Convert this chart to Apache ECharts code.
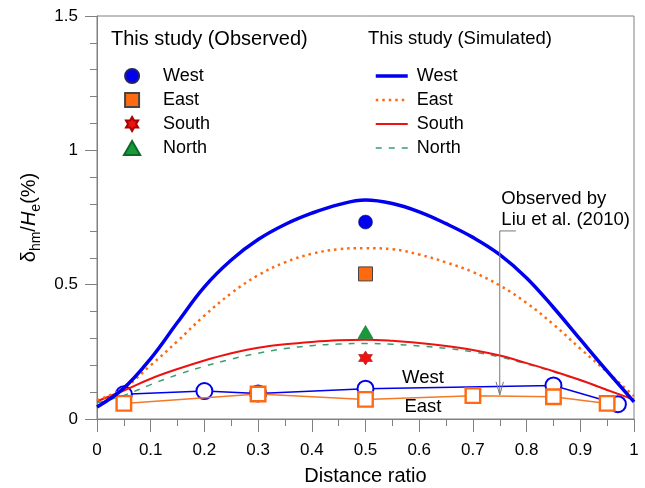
<!DOCTYPE html>
<html><head><meta charset="utf-8">
<script src="https://cdn.jsdelivr.net/npm/echarts@6/dist/echarts.min.js"></script>
<style>html,body{margin:0;padding:0;background:#fff}#c{width:645px;height:488px}</style>
</head><body><div id="c"></div>
<script>
const FONT = "'Liberation Sans', Arial, Helvetica, sans-serif";

// ---- data ----
const xTickValues = [0,0.1,0.2,0.3,0.4,0.5,0.6,0.7,0.8,0.9,1];
const yTickValues = [0,0.5,1,1.5];

const simX     = [0,0.05,0.1,0.15,0.2,0.25,0.3,0.35,0.4,0.45,0.5,0.55,0.6,0.65,0.7,0.75,0.8,0.85,0.9,0.95,1];
const simWest  = [0.045,0.115,0.225,0.36,0.492,0.592,0.668,0.724,0.766,0.798,0.815,0.802,0.771,0.727,0.676,0.612,0.525,0.415,0.296,0.178,0.064];
const simEast  = [0.07,0.115,0.2,0.29,0.385,0.468,0.535,0.583,0.615,0.632,0.636,0.632,0.612,0.583,0.547,0.497,0.432,0.352,0.262,0.175,0.085];
const simSouth = [0.066,0.106,0.15,0.186,0.218,0.245,0.265,0.278,0.287,0.293,0.295,0.291,0.283,0.272,0.257,0.236,0.208,0.178,0.145,0.108,0.072];
const simNorth = [0.06,0.088,0.128,0.165,0.196,0.223,0.245,0.262,0.273,0.279,0.281,0.278,0.272,0.263,0.25,0.231,0.205,0.176,0.144,0.108,0.072];

const liuWestX = [0.05,0.2,0.3,0.5,0.85,0.97];
const liuWestY = [0.092,0.104,0.095,0.113,0.125,0.055];
const liuEastX = [0.05,0.3,0.5,0.7,0.85,0.95];
const liuEastY = [0.058,0.093,0.073,0.087,0.083,0.058];

const obsX     = [0.5];
const obsWest  = [0.733];
const obsEast  = [0.54];
const obsSouth = [0.227];
const obsNorth = [0.324];

// ---- helpers ----
const zip = (xs, ys) => xs.map((x, i) => [x, ys[i]]);
function starPath() {
  let d = '';
  for (let i = 0; i < 12; i++) {
    const a = (-90 + i * 30) * Math.PI / 180;
    const r = i % 2 ? 0.577 : 1;
    d += (i ? 'L' : 'M') + (r * Math.cos(a)).toFixed(3) + ',' + (r * Math.sin(a)).toFixed(3);
  }
  return 'path://' + d + 'Z';
}
const STAR = starPath();
const RECT = 'path://M0,0L1,0L1,1L0,1Z';
const TRI  = 'path://M0.5,0L1,0.866L0,0.866Z';

const BLUE = '#0000ee', ORANGE = '#ff6a10', RED = '#ee1111', GREEN = '#169a3a', GDASH = '#3a9f6f';
const AX = '#808080';
const HIDE_SYM = {opacity: 0, color: 'transparent', borderWidth: 0};

const chart = echarts.init(document.getElementById('c'), null, {renderer: 'canvas'});

const option = {
  backgroundColor: '#fff',
  animation: false,
  textStyle: {fontFamily: FONT},
  grid: {left: 97, right: 11, top: 16, bottom: 69, show: true, borderColor: AX, borderWidth: 1, outerBoundsMode: 'none'},
  title: [
    {text: 'This study (Observed)', left: 111, top: 27, padding: 0,
     textStyle: {fontSize: 20, fontWeight: 'normal', fontFamily: FONT, color: '#000', lineHeight: 24}},
    {text: 'This study (Simulated)', left: 368, top: 27, padding: 0,
     textStyle: {fontSize: 18.5, fontWeight: 'normal', fontFamily: FONT, color: '#000', lineHeight: 24}}
  ],
  legend: [
    {
      orient: 'vertical', left: 123, top: 66, padding: 0,
      itemWidth: 52, itemHeight: 14, itemGap: 4, selectedMode: false,
      textStyle: {fontSize: 18, lineHeight: 20, fontFamily: FONT, color: '#000'},
      data: [
        {name: 'West', icon: 'circle'},
        {name: 'East', icon: RECT},
        {name: 'South', icon: STAR},
        {name: 'North', icon: TRI}
      ]
    },
    {
      orient: 'vertical', left: 374, top: 66, padding: 0,
      itemWidth: 32, itemHeight: 14, itemGap: 4, selectedMode: false,
      textStyle: {fontSize: 18, lineHeight: 20, fontFamily: FONT, color: '#000', padding: [0, 0, 0, 4]},
      formatter: n => n.replace(' (Simulated)', ''),
      data: [
        {name: 'West (Simulated)', lineStyle: {width: 3.5}, itemStyle: HIDE_SYM},
        {name: 'East (Simulated)', lineStyle: {width: 2.5}, itemStyle: HIDE_SYM},
        {name: 'South (Simulated)', lineStyle: {width: 2}, itemStyle: HIDE_SYM},
        {name: 'North (Simulated)', lineStyle: {width: 1.5}, itemStyle: HIDE_SYM}
      ]
    }
  ],
  xAxis: {
    type: 'value', min: xTickValues[0], max: xTickValues[xTickValues.length - 1], interval: 0.1,
    axisLine: {lineStyle: {color: AX, width: 1}},
    axisTick: {show: true, inside: false, length: 13, lineStyle: {color: AX, width: 1}},
    minorTick: {show: true, splitNumber: 2, length: 7, lineStyle: {color: AX, width: 1}},
    splitLine: {show: false},
    axisLabel: {margin: 23, fontSize: 17, color: '#000', fontFamily: FONT},
    name: 'Distance ratio', nameLocation: 'middle', nameGap: 47, nameMoveOverlap: false,
    nameTextStyle: {fontSize: 20, color: '#000', fontFamily: FONT}
  },
  yAxis: {
    type: 'value', min: yTickValues[0], max: yTickValues[yTickValues.length - 1], interval: 0.5,
    axisLine: {show: true, lineStyle: {color: AX, width: 1}},
    axisTick: {show: true, inside: false, length: 12, lineStyle: {color: AX, width: 1}},
    minorTick: {show: true, splitNumber: 5, length: 7, lineStyle: {color: AX, width: 1}},
    splitLine: {show: false},
    axisLabel: {margin: 19, fontSize: 17, color: '#000', fontFamily: FONT},
    name: '{a|δ}{b|hm}{a|/}{c|H}{b|e}{a|(%)}',
    nameLocation: 'middle', nameGap: 54, nameMoveOverlap: false,
    nameTextStyle: {
      color: '#000', fontFamily: FONT,
      rich: {
        a: {fontSize: 20, lineHeight: 28, verticalAlign: 'middle', fontFamily: FONT, color: '#000'},
        c: {fontSize: 20, lineHeight: 28, verticalAlign: 'middle', fontStyle: 'italic', fontFamily: FONT, color: '#000'},
        b: {fontSize: 14, lineHeight: 14, verticalAlign: 'bottom', fontFamily: FONT, color: '#000'}
      }
    }
  },
  series: [
    {name: 'Liu West', type: 'line', data: zip(liuWestX, liuWestY), z: 2,
     symbol: 'circle', symbolSize: 16,
     itemStyle: {color: '#fff', borderColor: BLUE, borderWidth: 2},
     lineStyle: {color: BLUE, width: 1.5}},
    {name: 'Liu East', type: 'line', data: zip(liuEastX, liuEastY), z: 3,
     symbol: 'rect', symbolSize: 14.5,
     itemStyle: {color: '#fff', borderColor: ORANGE, borderWidth: 2.4},
     lineStyle: {color: '#f27a2a', width: 1.5}},
    {name: 'North (Simulated)', type: 'line', data: zip(simX, simNorth), smooth: 0.4, symbol: 'none', showSymbol: false, z: 4,
     itemStyle: {color: GDASH}, lineStyle: {color: GDASH, width: 1.5, type: [6, 7]}},
    {name: 'South (Simulated)', type: 'line', data: zip(simX, simSouth), smooth: 0.4, symbol: 'none', showSymbol: false, z: 4,
     itemStyle: {color: RED}, lineStyle: {color: RED, width: 2}},
    {name: 'East (Simulated)', type: 'line', data: zip(simX, simEast), smooth: 0.4, symbol: 'none', showSymbol: false, z: 4,
     itemStyle: {color: ORANGE}, lineStyle: {color: ORANGE, width: 2.5, type: [2.5, 4]}},
    {name: 'West (Simulated)', type: 'line', data: zip(simX, simWest), smooth: 0.4, symbol: 'none', showSymbol: false, z: 4,
     itemStyle: {color: BLUE}, lineStyle: {color: BLUE, width: 3.5}},
    {name: 'West', type: 'scatter', data: zip(obsX, obsWest), symbol: 'circle', symbolSize: 14, z: 5,
     itemStyle: {color: BLUE, borderColor: '#222266', borderWidth: 0.6, opacity: 1}},
    {name: 'East', type: 'scatter', data: zip(obsX, obsEast), symbol: 'rect', symbolSize: 14, z: 5,
     itemStyle: {color: ORANGE, borderColor: '#444', borderWidth: 1, opacity: 1}},
    {name: 'South', type: 'scatter', data: zip(obsX, obsSouth), symbol: STAR, symbolSize: 14, z: 5,
     itemStyle: {color: RED, borderColor: '#aa0000', borderWidth: 0.5, opacity: 1}},
    {name: 'North', type: 'scatter', data: zip(obsX, obsNorth), symbol: TRI, symbolSize: [15, 13], z: 5,
     itemStyle: {color: GREEN, borderColor: '#0d6b27', borderWidth: 0.6, opacity: 1}}
  ]
};
chart.setOption(option);

// annotations anchored in data coordinates
const P = (x, y) => chart.convertToPixel({gridIndex: 0}, [x, y]);
const a1 = P(0.78, 0.70), a2 = P(0.75, 0.70), tip = P(0.75, 0.09);
const tA = P(0.753, 0.0), tW = P(0.607, 0.153), tE = P(0.607, 0.045);
chart.setOption({
  graphic: [
    {type: 'polyline', z: 10, shape: {points: [a1, a2, tip]}, style: {stroke: '#777', lineWidth: 1, fill: null}},
    {type: 'polyline', z: 10, shape: {points: [[tip[0] - 3.7, tip[1] - 13], tip, [tip[0] + 3.7, tip[1] - 13]]},
     style: {stroke: '#777', lineWidth: 1, fill: null}},
    {type: 'text', z: 10, x: tA[0], y: 188.5,
     style: {text: 'Observed by\nLiu et al. (2010)', fontSize: 18.5, fontFamily: FONT, fill: '#000',
             lineHeight: 21, align: 'left', verticalAlign: 'top'}},
    {type: 'text', z: 10, x: tW[0], y: tW[1],
     style: {text: 'West', fontSize: 18.5, fontFamily: FONT, fill: '#000', align: 'center', verticalAlign: 'middle'}},
    {type: 'text', z: 10, x: tE[0], y: tE[1],
     style: {text: 'East', fontSize: 18.5, fontFamily: FONT, fill: '#000', align: 'center', verticalAlign: 'middle'}}
  ]
});
</script>
</body></html>
